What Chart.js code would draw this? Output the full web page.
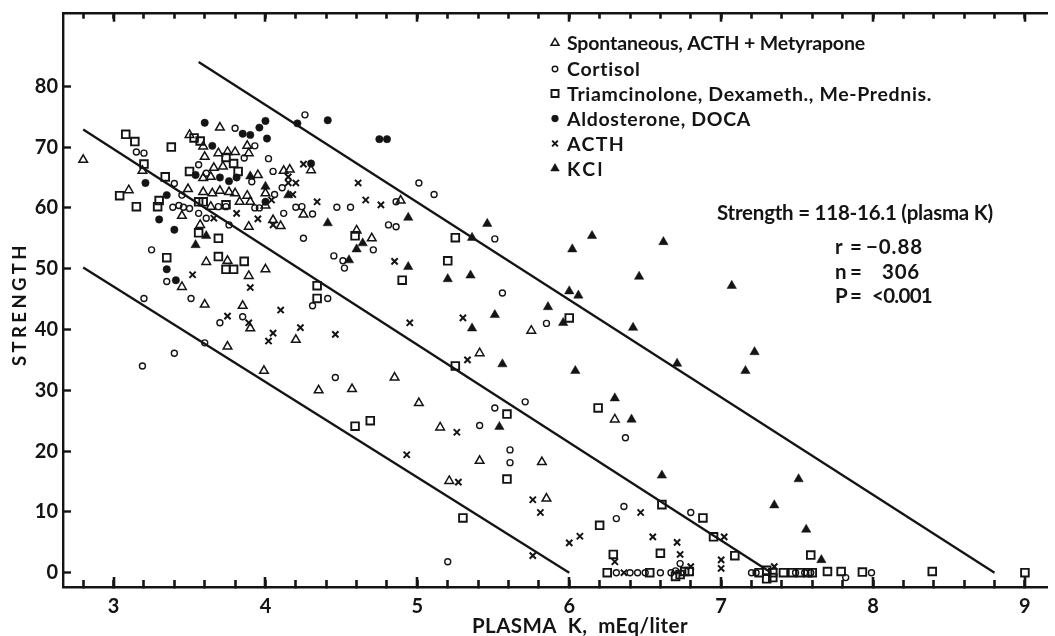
<!DOCTYPE html>
<html><head><meta charset="utf-8">
<script src="https://cdn.jsdelivr.net/npm/chart.js@4.4.1/dist/chart.umd.min.js"></script>
<style>html,body{margin:0;padding:0;background:#fff}#wrap{width:1055px;height:636px;position:relative}</style>
</head><body><div id="wrap"><canvas id="c" width="1055" height="636"></canvas></div>
<script>
// ---------------- data ----------------
const xRange = [2.667, 9.15];
const yRange = [-2.35, 92.1];
const xTicks = [3,4,5,6,7,8,9];
const xAllTicks = [2.8,3,3.2,3.4,3.6,3.8,4,4.2,4.4,4.6,4.8,5,5.2,5.4,5.6,5.8,6,6.2,6.4,6.6,6.8,7,7.2,7.4,7.6,7.8,8,8.2,8.4,8.6,8.8,9];
const yTicks = [0,10,20,30,40,50,60,70,80];
const xTitle = 'PLASMA  K,  mEq/liter';
const yTitle = 'STRENGTH';
const legendLabels = ['Spontaneous, ACTH + Metyrapone','Cortisol','Triamcinolone, Dexameth., Me-Prednis.','Aldosterone, DOCA','ACTH','KCl'];
const equationText = 'Strength = 118-16.1 (plasma K)';
const statLabels = ['r','n','P'];
const statValues = ['\u22120.88','306','<0.001'];

const spontaneous = [
[2.80,67.9],[3.10,62.9],[3.19,66.1],[3.49,63.1],[3.50,72.0],[3.59,70.1],[3.70,73.2],[3.60,68.4],
[3.69,69.0],[3.75,69.2],[3.80,69.2],[3.88,70.2],[3.89,69.0],
[3.59,64.9],[3.64,65.1],[3.66,66.6],[3.72,66.8],
[3.59,62.6],[3.65,62.4],[3.70,62.8],[3.76,62.6],[3.80,62.4],
[3.64,60.2],[3.83,61.0],[3.88,62.0],[3.90,61.0],[3.95,65.4],
[4.00,60.4],[4.00,62.4],[4.12,66.1],[4.16,66.3],[4.30,66.2],[4.89,61.2],
[3.45,58.7],[3.57,57.2],[3.89,56.9],[4.05,58.0],[4.10,57.0],[4.25,58.9],
[3.61,51.1],[3.75,51.3],[3.89,48.8],[4.00,49.9],[3.45,47.0],[3.60,44.1],[3.85,43.9],[3.90,40.2],
[4.20,38.3],[3.75,37.2],[3.99,33.2],[4.35,30.0],[4.60,56.3],[4.70,55.0],[5.41,36.1],[4.85,32.1],
[4.57,30.2],[5.75,39.8],[5.01,27.9],[5.15,23.9],[5.41,18.4],[5.82,18.2],[5.21,15.1],[5.85,12.2],[6.30,25.2]
];
const cortisol = [
[3.15,69.2],[3.20,69.0],[3.40,64.0],[3.39,60.1],[3.43,60.4],[3.46,60.1],[3.50,59.9],[3.45,62.1],
[3.80,73.1],[3.93,70.2],[3.86,68.2],[3.56,67.1],[3.61,65.7],[4.02,68.1],[3.91,64.3],[3.93,60.0],[3.96,60.0],
[4.06,62.2],[4.05,66.0],[4.11,63.3],[4.20,60.1],[4.24,60.2],[4.26,75.3],[5.01,64.1],[5.11,62.2],
[4.47,60.1],[4.56,60.1],[4.86,61.0],[3.56,59.1],[3.61,58.3],[3.76,57.2],[3.69,60.2],[3.74,60.2],
[4.12,59.1],[4.31,59.0],[4.25,55.0],[3.25,53.1],[3.35,47.9],[3.51,45.1],[3.20,45.1],[3.70,41.1],
[3.85,42.1],[4.31,43.9],[4.41,45.1],[3.60,37.8],[3.40,36.1],[3.19,34.0],[4.81,57.2],[4.86,56.9],
[4.71,53.1],[4.51,51.3],[4.52,50.1],[4.45,52.1],[5.51,54.9],[5.56,46.0],[5.85,41.0],[4.46,32.1],
[5.51,27.1],[5.71,28.1],[5.41,24.2],[5.61,20.2],[5.61,18.1],[5.20,1.8],[6.37,22.2],[6.36,10.9],
[6.31,8.9],[6.80,9.9],[6.73,1.5],
[6.31,0],[6.40,0],[6.45,0],[6.50,0],[6.60,0],[6.67,0],[6.70,0.3],[7.20,0],[7.23,0],[7.49,0],[7.55,0],[7.59,0],[7.82,-0.8],[7.99,0]
];
const triamcinolone = [
[3.08,72.1],[3.14,70.9],[3.20,67.2],[3.34,65.1],[3.38,70.0],[3.04,62.0],[3.15,60.2],[3.30,61.2],[3.29,60.2],
[3.53,71.5],[3.57,71.0],[3.79,67.3],[3.82,66.0],[3.50,66.0],[3.74,68.3],[3.74,60.5],[3.56,61.0],[3.59,61.0],
[3.56,55.9],[3.69,55.0],[3.35,51.8],[3.69,52.0],[3.74,49.9],[3.79,49.9],[3.86,51.2],[4.34,47.2],[4.34,45.1],
[4.59,55.4],[4.90,48.1],[5.25,55.1],[5.20,51.3],[6.00,41.9],[5.25,34.0],[4.59,24.1],[4.69,25.0],[5.59,26.1],
[5.59,15.4],[5.30,9.0],[6.19,27.1],[6.61,11.2],[6.20,7.8],[6.88,9.0],[6.95,5.9],[6.29,3.0],[6.60,3.2],
[7.09,2.8],[7.59,2.9],
[6.25,0],[6.53,0],[6.70,-0.6],[6.73,-0.3],[6.76,0.2],[6.79,0.2],[7.25,0],[7.30,0.4],[7.30,-1.0],[7.34,0],[7.34,-0.8],
[7.41,0],[7.47,0],[7.52,0],[7.57,0],[7.60,0],[7.70,0.2],[7.79,0.2],[7.93,0.1],[8.39,0.2],[9.00,0]
];
const aldosterone = [
[3.21,64.1],[3.35,62.1],[3.60,74.0],[3.65,70.2],[3.85,72.2],[3.90,72.0],[3.96,73.2],[4.00,74.3],[4.01,71.4],
[3.54,65.4],[3.70,65.0],[3.76,64.4],[3.81,65.0],[4.00,61.0],[4.30,67.3],[4.21,73.9],[4.41,74.4],[4.75,71.3],[4.80,71.3],
[3.30,58.1],[3.40,56.4],[3.35,49.9],[3.41,48.1]
];
const acth = [
[4.15,65.1],[4.20,64.1],[4.15,64.1],[4.18,62.2],[4.04,61.3],[4.34,61.0],[4.25,67.2],[4.61,64.1],[4.66,61.3],[4.76,60.5],
[3.81,59.1],[3.66,58.3],[3.95,58.2],[4.05,57.2],[3.52,49.0],[3.90,46.9],[3.75,42.2],[3.89,41.1],[4.10,43.2],
[4.05,39.4],[4.02,38.1],[4.23,40.3],[4.85,51.2],[5.30,41.9],[4.95,41.1],[4.46,39.2],[5.33,35.0],[5.26,23.1],
[4.93,19.4],[5.27,14.9],[5.76,12.0],[5.81,9.9],[6.00,4.9],[6.07,6.0],[5.76,2.8],[6.47,9.9],[6.55,5.9],[6.71,5.0],
[7.02,5.9],[6.30,1.8],[6.73,3.0],[6.80,1.0],[7.00,2.1],[7.00,0.7],[7.35,1.0],[6.36,0]
];
const kcl = [
[3.90,65.2],[4.00,63.5],[4.15,62.1],[4.41,57.5],[3.54,53.9],[3.61,55.4],[4.94,58.4],[4.64,54.2],[4.60,53.2],
[4.55,51.4],[4.94,50.3],[5.36,55.1],[5.46,57.4],[5.20,48.3],[5.35,48.9],[6.02,53.2],[6.00,46.3],[6.06,45.6],
[5.51,42.4],[5.86,43.7],[5.96,41.1],[5.36,40.2],[5.56,34.3],[6.04,33.2],[6.15,55.4],[6.62,54.4],[6.46,48.7],
[7.07,47.2],[6.42,40.3],[6.71,34.4],[7.22,36.3],[7.16,33.2],[6.30,28.7],[5.54,24.0],[6.41,25.2],[6.61,16.0],
[7.51,15.4],[7.35,11.1],[7.56,7.1],[7.66,2.1]
];
const fitLine   = [[2.80,72.9],[7.33,0]];
const upperLine = [[3.56,84.0],[8.80,0]];
const lowerLine = [[2.80,50.2],[6.00,0]];

// ---------------- rendering ----------------
const INK = '#141414';
const FAM = 'Lato, "DejaVu Sans", sans-serif';
const pts = a => a.map(p => ({x:p[0], y:p[1]}));
const isMajor = v => Math.abs(v - Math.round(v)) < 1e-6;

const styles = [
  {style:'triangle', r:5.0, filled:false, bw:1.5},
  {style:'circle',   r:3.0, filled:false, bw:1.4},
  {style:'rect',     r:5.4, filled:false, bw:1.9},
  {style:'circle',   r:3.7, filled:true,  bw:0.5},
  {style:'crossRot', r:4.4, filled:false, bw:2.0},
  {style:'triangle', r:5.4, filled:true,  bw:0.5}
];
const groups = [spontaneous, cortisol, triamcinolone, aldosterone, acth, kcl];

const pointSets = groups.map((g,i) => ({
  label: legendLabels[i], data: pts(g), showLine:false, xAxisID:'x', yAxisID:'y',
  pointStyle: styles[i].style, pointRadius: styles[i].r, pointHoverRadius: styles[i].r,
  pointBackgroundColor: styles[i].filled ? INK : 'rgba(0,0,0,0)',
  pointBorderColor: INK, pointBorderWidth: styles[i].bw
}));
const lineSet = d => ({label:'', data: pts(d), showLine:true, xAxisID:'x', yAxisID:'y',
  borderColor:INK, borderWidth:2.3, pointRadius:0, pointHoverRadius:0, fill:false, tension:0});

function fitText(ctx, text, x0, x1, yb, size) {
  ctx.font = 'bold ' + size + 'px ' + FAM;
  let ls = 0;
  if ('letterSpacing' in ctx) {
    ctx.letterSpacing = '0px';
    const w = ctx.measureText(text).width;
    if (x1 != null) ls = Math.max(-1.5, Math.min(5, (x1 - x0 - w) / text.length));
    ctx.letterSpacing = ls + 'px';
  }
  ctx.textAlign = 'left'; ctx.textBaseline = 'alphabetic';
  ctx.fillText(text, x0, yb);
  if ('letterSpacing' in ctx) ctx.letterSpacing = '0px';
}

function drawSym(ctx, s, px, py) {
  ctx.save();
  ctx.fillStyle = s.filled ? INK : 'rgba(0,0,0,0)';
  ctx.strokeStyle = INK; ctx.lineWidth = s.bw;
  Chart.helpers.drawPoint(ctx, {pointStyle:s.style, radius:s.r, rotation:0, borderWidth:s.bw}, px, py);
  ctx.restore();
}

const decor = {
  id: 'decor',
  afterDraw(chart) {
    const ctx = chart.ctx, a = chart.chartArea;
    const xs = chart.scales.x;
    ctx.save();
    ctx.fillStyle = INK;
    // lengthen the major ticks
    xTicks.forEach(v => {
      const px = Math.round(xs.getPixelForValue(v));
      ctx.fillRect(px - 1.3, a.bottom - 10, 2.6, 10);
      ctx.fillRect(px - 1.3, a.top, 2.6, 9);
    });

    // legend
    const rowsB = [50, 76, 100.5, 125.5, 150.5, 175.5];
    const ends = [865, 641, 932, 751, 625, 605];
    legendLabels.forEach((t, i) => {
      drawSym(ctx, {...styles[i], r: styles[i].r * 0.92}, 555, rowsB[i] - 7);
      ctx.fillStyle = INK;
      fitText(ctx, t, 567, ends[i], rowsB[i], 19.5);
    });

    // equation & stats
    fitText(ctx, equationText, 717, 993, 220, 20.5);
    const sb = [253.5, 278.5, 302.5];
    const vx = [[866, 923], [882, 920], [872, 932]];
    statLabels.forEach((t, i) => {
      fitText(ctx, t, 835, null, sb[i], 20.5);
      fitText(ctx, '=', 850, null, sb[i], 20.5);
      fitText(ctx, statValues[i], vx[i][0], vx[i][1], sb[i], 20.5);
    });

    // axis titles
    fitText(ctx, xTitle, 472, 688, 633, 20.5);
    ctx.save();
    ctx.translate(25.5, 366); ctx.rotate(-Math.PI / 2);
    fitText(ctx, yTitle, 0, 124, 0, 18.5);
    ctx.restore();
    ctx.restore();
  }
};

const tickFont = { family: FAM, size: 20, weight: 'bold' };
const noPadH = (s, h) => { s.height = h; s.paddingLeft = 0; s.paddingRight = 0; s.paddingTop = 0; s.paddingBottom = 0; };
new Chart(document.getElementById('c'), {
  type: 'scatter',
  data: { datasets: [lineSet(fitLine), lineSet(upperLine), lineSet(lowerLine), ...pointSets] },
  options: {
    responsive: false, animation: false, events: [],
    layout: { padding: 0 },
    plugins: { legend: { display: false }, tooltip: { enabled: false } },
    scales: {
      x: {
        type: 'linear', position: 'bottom', min: xRange[0], max: xRange[1],
        grid: { display: true, drawOnChartArea: false, drawTicks: true, tickLength: -7, tickWidth: 2.6, tickColor: INK },
        border: { display: true, color: INK, width: 2.4 },
        ticks: { color: INK, padding: 15, font: tickFont, autoSkip: false, maxRotation: 0, includeBounds: false,
                 callback: v => isMajor(v) ? String(Math.round(v)) : '' },
        afterBuildTicks: s => { s.ticks = xAllTicks.map(v => ({value: v})); },
        afterFit: s => noPadH(s, 49)
      },
      xTop: {
        type: 'linear', position: 'top', min: xRange[0], max: xRange[1],
        grid: { display: true, drawOnChartArea: false, drawTicks: true, tickLength: -6, tickWidth: 2.6, tickColor: INK },
        border: { display: true, color: INK, width: 2.4 },
        ticks: { display: true, autoSkip: false, maxRotation: 0, includeBounds: false, callback: () => '' },
        afterBuildTicks: s => { s.ticks = xAllTicks.map(v => ({value: v})); },
        afterFit: s => noPadH(s, 12.7)
      },
      y: {
        type: 'linear', position: 'left', min: yRange[0], max: yRange[1],
        grid: { display: true, drawOnChartArea: false, drawTicks: true, tickLength: -8, tickWidth: 2.4, tickColor: INK },
        border: { display: true, color: INK, width: 2.4 },
        ticks: { color: INK, padding: 13, font: tickFont, includeBounds: false },
        afterBuildTicks: s => { s.ticks = yTicks.map(v => ({value: v})); },
        afterFit: s => { s.width = 63; s.paddingTop = 0; s.paddingBottom = 0; s.paddingLeft = 0; s.paddingRight = 0; }
      }
    }
  },
  plugins: [decor]
});
</script>
</body></html>
